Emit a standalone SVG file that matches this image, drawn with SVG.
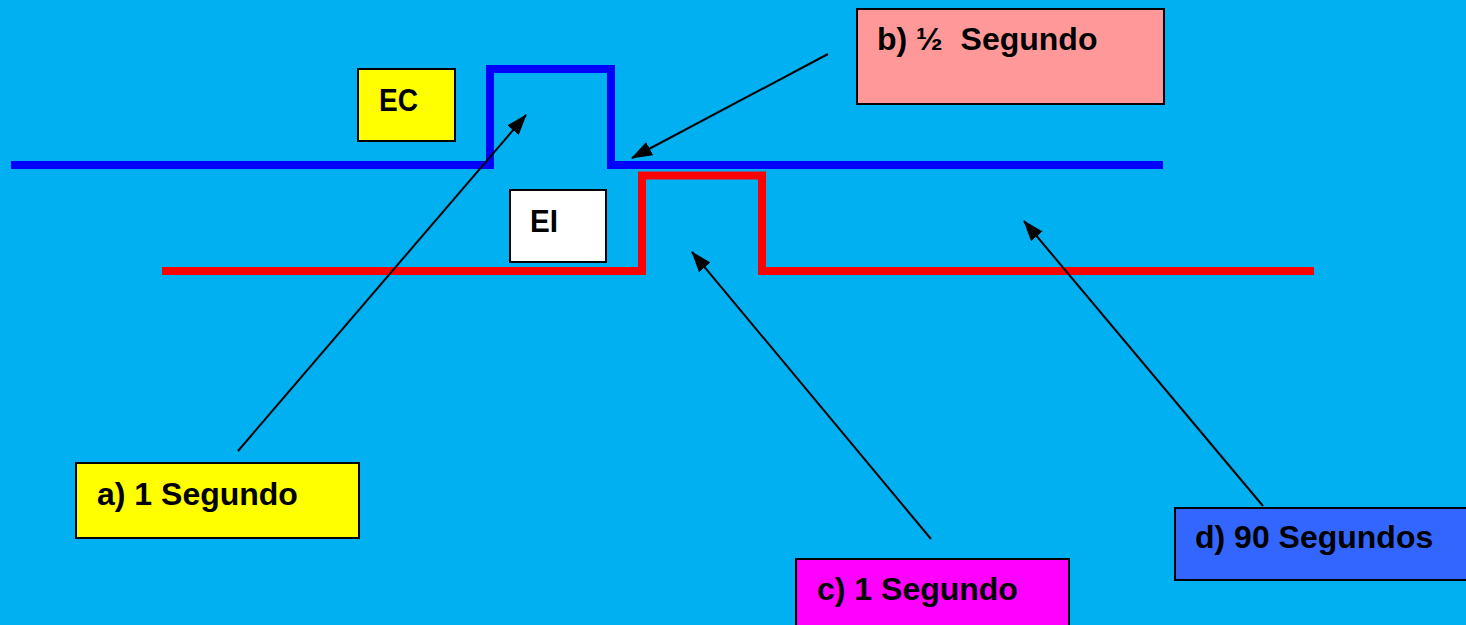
<svg xmlns="http://www.w3.org/2000/svg" width="1466" height="625" viewBox="0 0 1466 625">
<defs>
<style>
.box{stroke:#000;stroke-width:2}
.lbl{font-family:"Liberation Sans",Arial,sans-serif;font-weight:bold;fill:#000}
.wave{fill:none;stroke-width:8;stroke-linejoin:miter;stroke-linecap:butt}
.arr{fill:none;stroke:#000;stroke-width:2;marker-end:url(#ah)}
</style>
<marker id="ah" markerUnits="userSpaceOnUse" markerWidth="21" markerHeight="15" refX="20" refY="7.5" orient="auto">
<path d="M0,0 L21,7.5 L0,15 z" fill="#000"/>
</marker>
</defs>
<rect x="0" y="0" width="1466" height="625" fill="#00B0F0"/>
<g id="waveforms">
<polyline id="ec-wave" class="wave" stroke="#0000FF" points="11,165 490,165 490,69 611,69 611,165 1163,165"/>
<polyline id="ei-wave" class="wave" stroke="#FF0000" points="162,271 642,271 642,175.5 762,175.5 762,271 1314,271"/>
</g>
<g id="node-ec">
<rect class="box" x="358" y="69" width="97" height="72" fill="#FFFF00"/>
<text class="lbl" x="379" y="111" font-size="31" textLength="39" lengthAdjust="spacingAndGlyphs">EC</text>
</g>
<g id="node-ei">
<rect class="box" x="510" y="190" width="96" height="72" fill="#FFFFFF"/>
<text class="lbl" x="530" y="232" font-size="31" textLength="28" lengthAdjust="spacingAndGlyphs">EI</text>
</g>
<g id="node-a">
<rect class="box" x="76" y="463" width="283" height="75" fill="#FFFF00"/>
<text class="lbl" x="97" y="505" font-size="32">a) 1 Segundo</text>
</g>
<g id="node-b">
<rect class="box" x="857" y="9" width="307" height="95" fill="#FF9999"/>
<text class="lbl" x="877" y="50" font-size="32" xml:space="preserve">b) ½  Segundo</text>
</g>
<g id="node-c">
<rect class="box" x="796" y="559" width="273" height="80" fill="#FF00FF"/>
<text class="lbl" x="817" y="600" font-size="32">c) 1 Segundo</text>
</g>
<g id="node-d">
<rect class="box" x="1175" y="508" width="300" height="72" fill="#3366FF"/>
<text class="lbl" x="1195" y="548" font-size="32">d) 90 Segundos</text>
</g>
<g id="connectors">
<line class="arr" x1="238" y1="451" x2="526" y2="115"/>
<line class="arr" x1="828" y1="54" x2="632" y2="158"/>
<line class="arr" x1="931" y1="539" x2="692" y2="252"/>
<line class="arr" x1="1263" y1="506" x2="1024" y2="221"/>
</g>
</svg>
